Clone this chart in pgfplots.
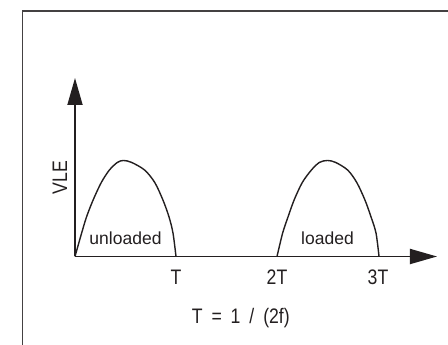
\documentclass[border=0pt]{standalone}
\usepackage{pgfplots}
\pgfplotsset{compat=1.18}
\usepackage{fontspec}
\setmainfont{Liberation Sans}
\newfontfamily\condfont{Liberation Sans}[FakeStretch=0.84]
\usetikzlibrary{arrows.meta}
\definecolor{ink}{RGB}{35,31,32}
\newcommand{\lblfont}{\condfont\fontsize{21}{24}\selectfont}
\newcommand{\inlfont}{\fontsize{17.5}{20}\selectfont}
\begin{document}
\begin{tikzpicture}[x=1pt,y=1pt]
\begin{axis}[
  at={(0,0)}, anchor=origin,
  scale only axis,
  width=362pt, height=178.5pt,
  xmin=0, xmax=3.584, ymin=0, ymax=1.859,
  axis lines=left,
  axis line style={ink, line width=1.8pt, -{Triangle[length=27pt,width=15pt]}},
  xtick={1,2,3}, xticklabels={T,2T,3T},
  ytick=\empty,
  major tick length=0pt,
  xticklabel style={font=\lblfont, text=ink, yshift=-10pt},
  xlabel={T\hspace{4pt} = \hspace{4pt}1 \hspace{4pt}/\hspace{4pt} (2f)},
  xlabel style={font=\lblfont, text=ink, at={(axis description cs:0.458,-0.345)}, anchor=center},
  ylabel={VLE},
  ylabel style={font=\lblfont, text=ink, at={(axis description cs:-0.0414,0.4426)}, anchor=center, rotate=0},
  clip=false,
]
\addplot[ink, line width=1.4pt, smooth, tension=0.5] coordinates {
 (0,0) (0.066,0.245) (0.115,0.415) (0.18,0.59) (0.26,0.77) (0.34,0.90) (0.42,0.98) (0.48,1.0) (0.56,0.98) (0.69,0.90) (0.79,0.77) (0.87,0.59) (0.93,0.415) (0.97,0.245) (1,0)
};
\addplot[ink, line width=1.4pt, smooth, tension=0.5] coordinates {
 (2,0) (2.056,0.245) (2.11,0.415) (2.17,0.59) (2.25,0.77) (2.34,0.90) (2.42,0.98) (2.50,1.0) (2.58,0.98) (2.70,0.90) (2.79,0.77) (2.87,0.59) (2.93,0.415) (2.98,0.245) (3.01,0)
};
\node[font=\inlfont, text=ink] at (axis cs:0.50,0.194) {unloaded};
\node[font=\inlfont, text=ink] at (axis cs:2.5,0.194) {loaded};
\end{axis}
\draw[ink!85, line width=1.4pt] (-52.5,-88.5) -- (-52.5,245.5) -- (373,245.5);
\pgfresetboundingbox
\path[use as bounding box] (-75,-88.5) rectangle (373,256.5);
\end{tikzpicture}
\end{document}
